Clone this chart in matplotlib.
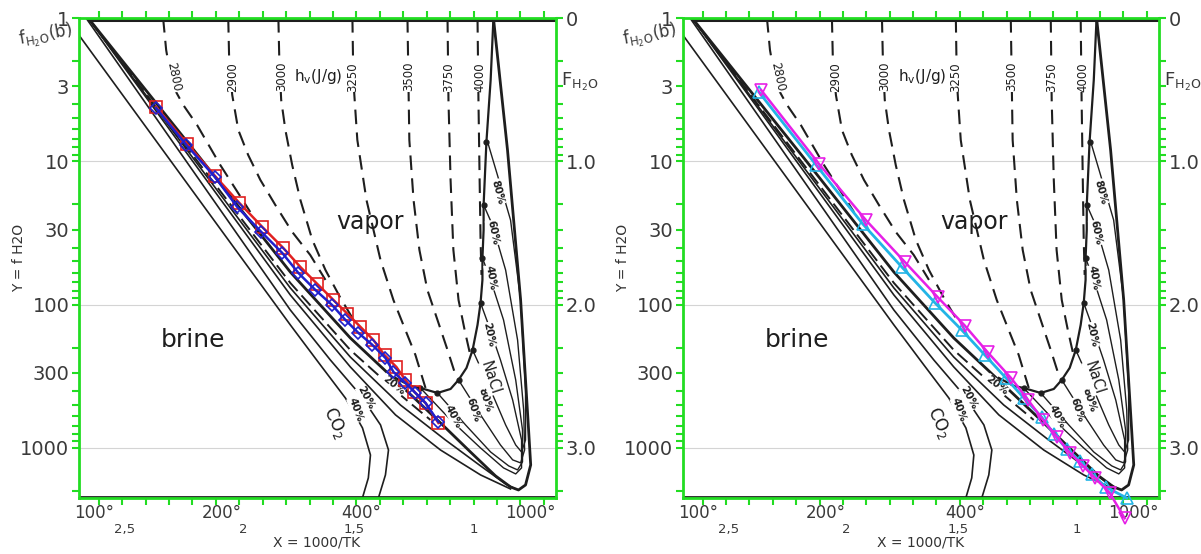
import numpy as np
import matplotlib
matplotlib.use("Agg")
import matplotlib.pyplot as plt
from matplotlib.ticker import LogLocator, NullFormatter, FixedLocator
import matplotlib.transforms as mtransforms

GREEN = "#22dd22"
INK = "#1e1e1e"

# ---- background phase diagram, X = 1000/T, F = log10(f) ----
v_x = [2.645, 2.167, 1.782, 1.526, 1.312, 1.141, 1.013, 0.906, 0.842, 0.808, 0.778, 0.756, 0.765, 0.799, 0.855, 0.915]
v_F = [0, 0.977, 1.773, 2.233, 2.561, 2.826, 3.029, 3.196, 3.273, 3.294, 3.259, 3.119, 2.875, 1.968, 0.921, 0]

s1_x = [2.645, 1.782, 1.526, 1.312, 1.120, 0.970, 0.863, 0.820]
s1_F = [0, 1.884, 2.366, 2.701, 2.945, 3.126, 3.252, 3.287]
s2_x = [2.645, 1.782, 1.526, 1.333, 1.141, 0.970, 0.842]
s2_F = [0, 1.933, 2.435, 2.770, 3.015, 3.189, 3.287]
d1_x = [2.645, 1.782, 1.526, 1.312, 1.184]
d1_F = [0, 1.849, 2.317, 2.631, 2.805]

co2_20_x = [2.654, 1.782, 1.611, 1.483, 1.397, 1.363, 1.376, 1.415]
co2_20_F = [0, 2.038, 2.387, 2.631, 2.840, 3.015, 3.189, 3.398]
co2_40_x = [2.684, 1.782, 1.654, 1.547, 1.474, 1.440, 1.449, 1.483]
co2_40_F = [0.120, 2.142, 2.421, 2.652, 2.861, 3.050, 3.210, 3.398]

crit_x = [1.333, 1.269, 1.227, 1.154, 1.098, 1.064, 1.030, 1.004, 0.983, 0.970, 0.962, 0.962, 0.957, 0.957, 0.945, 0.927, 0.915]
crit_F = [2.512, 2.568, 2.582, 2.617, 2.589, 2.526, 2.442, 2.317, 2.142, 1.989, 1.828, 1.675, 1.479, 1.305, 0.865, 0.433, 0]
dots_x = [1.227, 1.154, 1.064, 1.004, 0.970, 0.962, 0.957, 0.945]
dots_F = [2.582, 2.617, 2.526, 2.317, 1.989, 1.675, 1.305, 0.865]

loop20_x = [1.227, 1.098, 0.970, 0.872, 0.820, 0.795, 0.795, 0.833, 0.885, 0.936, 0.970]
loop20_F = [2.582, 2.805, 3.001, 3.140, 3.182, 3.140, 2.945, 2.666, 2.387, 2.142, 1.989]
loop40_x = [1.154, 1.034, 0.927, 0.850, 0.812, 0.791, 0.791, 0.820, 0.872, 0.927, 0.962]
loop40_F = [2.617, 2.840, 3.029, 3.126, 3.154, 3.098, 2.875, 2.526, 2.107, 1.828, 1.675]
loop60_x = [1.064, 0.970, 0.885, 0.833, 0.799, 0.782, 0.786, 0.812, 0.863, 0.919, 0.957]
loop60_F = [2.526, 2.770, 2.980, 3.084, 3.105, 3.015, 2.736, 2.247, 1.759, 1.445, 1.305]
loop80_x = [1.004, 0.927, 0.863, 0.820, 0.795, 0.778, 0.778, 0.799, 0.842, 0.898, 0.940]
loop80_F = [2.317, 2.596, 2.840, 2.980, 3.029, 2.945, 2.596, 1.968, 1.410, 1.096, 0.865]

# isenthalps h_v (J/g)
h2800_x = [2.325, 2.312, 2.286, 2.239, 2.180, 2.081, 1.953]
h2800_F = [0, 0.223, 0.468, 0.607, 0.747, 1.026, 1.354]
h2900_x = [2.047, 2.043, 2.030, 2.004, 1.962, 1.910, 1.846, 1.774, 1.697, 1.632]
h2900_F = [0, 0.293, 0.537, 0.782, 0.956, 1.130, 1.305, 1.493, 1.654, 1.828]
h3000_x = [1.833, 1.829, 1.821, 1.803, 1.774, 1.739, 1.688, 1.632, 1.568, 1.517]
h3000_F = [0, 0.293, 0.572, 0.782, 1.026, 1.270, 1.549, 1.759, 1.954, 2.094]
h3250_x = [1.517, 1.513, 1.496, 1.457, 1.397, 1.342, 1.291, 1.248, 1.205]
h3250_F = [0, 0.433, 0.851, 1.270, 1.689, 1.968, 2.177, 2.352, 2.582]
h3500_x = [1.282, 1.278, 1.274, 1.256, 1.231, 1.197, 1.154, 1.111, 1.073]
h3500_F = [0, 0.433, 0.851, 1.270, 1.619, 1.898, 2.107, 2.317, 2.512]
h3750_x = [1.111, 1.107, 1.098, 1.086, 1.064, 1.038, 1.013]
h3750_F = [0, 0.572, 1.130, 1.619, 1.968, 2.177, 2.359]
h4000_x = [0.983, 0.979, 0.974, 0.970, 0.966]
h4000_F = [0, 0.572, 1.130, 1.549, 1.793]

h_labels = ["2800", "2900", "3000", "3250", "3500", "3750", "4000"]
h_label_x = [2.278, 2.030, 1.821, 1.517, 1.278, 1.107, 0.974]

# ---- overlay series ----
red_x = [2.355, 2.222, 2.103, 2.000, 1.902, 1.812, 1.739, 1.667, 1.598, 1.538, 1.483, 1.427, 1.380, 1.329, 1.291, 1.252, 1.205, 1.150]
red_f = [4.18, 7.57, 12.7, 19.5, 28.7, 40.3, 54.7, 71.8, 92.9, 116, 143, 177, 225, 273, 336, 407, 486, 670]
blue_x = [2.355, 2.226, 2.103, 2.009, 1.906, 1.816, 1.748, 1.675, 1.603, 1.547, 1.491, 1.432, 1.376, 1.342, 1.291, 1.248, 1.205, 1.150]
blue_f = [4.25, 7.69, 12.9, 20.8, 31.1, 43.7, 60.1, 79.1, 101, 128, 158, 191, 236, 295, 352, 414, 486, 659]

cyan_x = [2.359, 2.115, 1.915, 1.748, 1.607, 1.491, 1.393, 1.303, 1.226, 1.150, 1.098, 1.043, 0.987, 0.936, 0.876, 0.786]
cyan_f = [3.29, 10.6, 27.4, 54.7, 97, 151, 225, 325, 449, 609, 800, 1019, 1234, 1521, 1875, 2238]
mag_x = [2.350, 2.103, 1.902, 1.735, 1.594, 1.479, 1.380, 1.282, 1.209, 1.145, 1.085, 1.030, 0.974, 0.923, 0.859, 0.795]
mag_f = [3.18, 10.4, 25.7, 50.5, 89, 140, 216, 324, 461, 637, 836, 1082, 1333, 1615, 2060, 3100]

y_ticks = [1, 3, 10, 30, 100, 300, 1000]
y_ticklabels = ["1", "3", "10", "30", "100", "300", "1000"]
F_ticks = [1, 10, 100, 1000]
F_ticklabels = ["0", "1.0", "2.0", "3.0"]
temp_labels = ["100°", "200°", "400°", "1000°"]
temp_label_x = [2.620, 2.073, 1.479, 0.756]
inv_labels = ["2,5", "2", "1,5", "1"]
inv_label_x = [2.491, 1.985, 1.509, 1.000]

XMIN, XMAX = 2.684, 0.648
FMAX = 3.35


def f(F):
    return 10 ** np.asarray(F, dtype=float)


def draw_diagram(ax):
    ax.set_yscale("log")
    ax.set_xlim(XMIN, XMAX)
    ax.set_ylim(10 ** FMAX, 1)
    for yy in [10, 100, 1000]:
        ax.axhline(yy, color="#d4d4d4", lw=0.8, zorder=0)

    ax.plot(v_x, f(v_F), color=INK, lw=2.0)
    ax.plot(s1_x, f(s1_F), color=INK, lw=1.2)
    ax.plot(s2_x, f(s2_F), color=INK, lw=1.2)
    ax.plot(d1_x, f(d1_F), color=INK, lw=1.4, dashes=(7, 3))
    ax.plot(co2_20_x, f(co2_20_F), color=INK, lw=1.2)
    ax.plot(co2_40_x, f(co2_40_F), color=INK, lw=1.2)
    ax.plot(crit_x, f(crit_F), color=INK, lw=1.6)
    ax.plot(dots_x, f(dots_F), "o", color=INK, ms=3.5)
    for lx, lF in [(loop20_x, loop20_F), (loop40_x, loop40_F),
                   (loop60_x, loop60_F), (loop80_x, loop80_F)]:
        ax.plot(lx, f(lF), color=INK, lw=1.0)
    for hx, hF in [(h2800_x, h2800_F), (h2900_x, h2900_F), (h3000_x, h3000_F),
                   (h3250_x, h3250_F), (h3500_x, h3500_F), (h3750_x, h3750_F),
                   (h4000_x, h4000_F)]:
        ax.plot(hx, f(hF), color=INK, lw=1.5, dashes=(7, 4))

    for lab, lx in zip(h_labels, h_label_x):
        rot = -78 if lab == "2800" else 90
        ax.text(lx, 10 ** 0.41, lab, rotation=rot, ha="center", va="center",
                fontsize=8.5, color=INK,
                bbox=dict(fc="white", ec="none", pad=0.5))
    ax.text(1.662, 10 ** 0.41, r"h$_\mathrm{v}$(J/g)", ha="center", va="center",
            fontsize=11, color=INK, bbox=dict(fc="white", ec="none", pad=0.5))

    ax.text(1.440, 10 ** 1.424, "vapor", fontsize=17, color=INK, ha="center", va="center")
    ax.text(2.197, 10 ** 2.247, "brine", fontsize=18, color=INK, ha="center", va="center")
    ax.text(1.590, 10 ** 2.826, r"CO$_2$", fontsize=12, color=INK, rotation=-65,
            ha="center", va="center")

    pct = [("20%", 1.462, 2.652, -62), ("40%", 1.504, 2.736, -70),
           ("20%", 1.342, 2.561, -38), ("40%", 1.086, 2.784, -62),
           ("60%", 1.000, 2.736, -72), ("80%", 0.949, 2.666, -72),
           ("80%", 0.897, 1.214, -75), ("60%", 0.919, 1.500, -78),
           ("40%", 0.927, 1.814, -80), ("20%", 0.936, 2.212, -78)]
    for lab, lx, lF, rot in pct:
        ax.text(lx, 10 ** lF, lab, fontsize=7.5, fontweight="bold", color=INK,
                rotation=rot, ha="center", va="center",
                bbox=dict(fc="white", ec="none", pad=0.2))
    ax.text(0.927, 10 ** 2.512, "NaCl", fontsize=10.5, color=INK, rotation=-72,
            ha="center", va="center", bbox=dict(fc="white", ec="none", pad=0.2))

    # scanned frame lines
    ax.axhline(10 ** 0.012, color=INK, lw=2.2, xmin=0.02)
    ax.axhline(10 ** (FMAX - 0.01), color=INK, lw=2.0)

    # axis styling
    for sp in ax.spines.values():
        sp.set_color(GREEN)
        sp.set_linewidth(2)
    ax.set_xticks(np.round(np.arange(0.7, 2.65, 0.1), 2))
    ax.tick_params(axis="x", which="both", direction="out", length=5, width=1.5,
                   color=GREEN, top=True, labelbottom=False)
    ax.yaxis.set_major_locator(FixedLocator(y_ticks))
    ax.yaxis.set_minor_locator(LogLocator(base=10, subs=np.arange(2, 10)))
    ax.yaxis.set_minor_formatter(NullFormatter())
    ax.set_yticklabels(y_ticklabels)
    ax.tick_params(axis="y", which="both", direction="out", length=5, width=1.5,
                   color=GREEN, labelsize=14, labelcolor="#3a3a3a", pad=2)

    ax2 = ax.twinx()
    ax2.set_yscale("log")
    ax2.set_ylim(ax.get_ylim())
    ax2.yaxis.set_major_locator(FixedLocator(F_ticks))
    ax2.yaxis.set_minor_locator(LogLocator(base=10, subs=np.arange(2, 10)))
    ax2.yaxis.set_minor_formatter(NullFormatter())
    ax2.set_yticklabels(F_ticklabels)
    ax2.tick_params(axis="y", which="both", direction="out", length=5, width=1.5,
                    color=GREEN, labelsize=14, labelcolor="#3a3a3a", pad=2)
    for sp in ax2.spines.values():
        sp.set_visible(False)

    trans = mtransforms.blended_transform_factory(ax.transData, ax.transAxes)
    for lab, lx in zip(temp_labels, temp_label_x):
        ax.text(lx, -0.032, lab, transform=trans, fontsize=12, color="#3a3a3a",
                ha="center", va="center")
    for lab, lx in zip(inv_labels, inv_label_x):
        ax.text(lx, -0.066, lab, transform=trans, fontsize=9.5, color="#3a3a3a",
                ha="center", va="center")

    ax.text(1.011, 0.867, r"F$_{\mathrm{H_2O}}$", transform=ax.transAxes,
            fontsize=13, color="#3a3a3a", ha="left", va="center")
    ax.text(-0.069, 0.962, r"f$_{\mathrm{H_2O}}$(b)", transform=ax.transAxes,
            fontsize=12, color="#3a3a3a", ha="center", va="center", rotation=10)
    ax.text(0.499, -0.093, "X = 1000/TK", transform=ax.transAxes, fontsize=10,
            color="#333333", ha="center", va="center")
    ax.text(-0.126, 0.5, "Y = f H2O", transform=ax.transAxes, fontsize=10,
            color="#333333", ha="center", va="center", rotation=90)
    return ax


fig = plt.figure(figsize=(12.01, 5.54), dpi=100)
ax_l = fig.add_axes([79 / 1201, 56 / 554, 477 / 1201, 480 / 554])
ax_r = fig.add_axes([683 / 1201, 56 / 554, 476 / 1201, 480 / 554])

draw_diagram(ax_l)
draw_diagram(ax_r)

ax_l.plot(red_x, red_f, color="#e02020", lw=1.8, marker="s", ms=8.5,
          mfc="none", mec="#e02020", mew=1.2, zorder=5)
ax_l.plot(blue_x, blue_f, color="#2020cc", lw=1.8, marker="D", ms=6,
          mfc="none", mec="#2020cc", mew=1.2, zorder=6)

ax_r.plot(cyan_x, cyan_f, color="#22b4e6", lw=2.0, marker="^", ms=9,
          mfc="none", mec="#22b4e6", mew=1.2, zorder=5, clip_on=False)
ax_r.plot(mag_x, mag_f, color="#e620e6", lw=1.8, marker="v", ms=8,
          mfc="none", mec="#e620e6", mew=1.2, zorder=6, clip_on=False)

fig.savefig("out.png", dpi=100)
